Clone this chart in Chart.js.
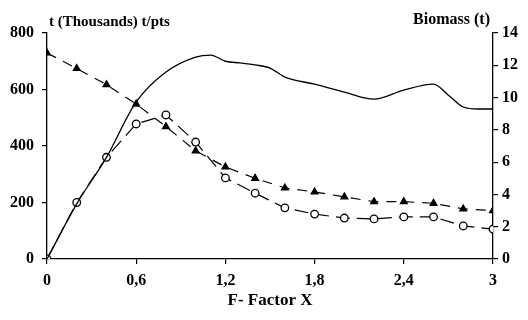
<!DOCTYPE html>
<html>
<head>
<meta charset="utf-8">
<script src="https://cdn.jsdelivr.net/npm/chart.js@4"></script>
<style>
  html, body { margin: 0; padding: 0; background: #fff; }
  #wrap { width: 528px; height: 320px; position: relative; }
</style>
</head>
<body>
<div id="wrap"><canvas id="c"></canvas></div>
<script>
/* F-factor chart: yield curve, yield/recruit points (left axis) and biomass (right axis). */
const fValues = [0, 0.2, 0.4, 0.6, 0.8, 1.0, 1.2, 1.4, 1.6, 1.8, 2.0, 2.2, 2.4, 2.6, 2.8, 3.0];
const biomass = [12.76, 11.8, 10.8, 9.6, 8.2, 6.7, 5.7, 5.0, 4.4, 4.15, 3.85, 3.55, 3.55, 3.45, 3.1, 3.0];
const yieldPts = [0, 200, 360, 478, 510, 414, 287, 233, 181, 159, 145, 142, 149, 149, 117, 106];
const curveF = [0, 0.2, 0.4, 0.6, 0.8, 1.0, 1.1, 1.2, 1.3, 1.4, 1.5, 1.6, 1.8, 2.0, 2.2, 2.4, 2.6, 2.7, 2.8, 2.9, 3.0];
const curveT = [0, 195, 360, 556, 662, 715, 722, 700, 694, 687, 676, 644, 619, 591, 566, 598, 619, 580, 538, 531, 531];
const leftTitle = "t (Thousands) t/pts";
const rightTitle = "Biomass (t)";
const xTitle = "F- Factor X";

const FONT = "'Liberation Serif', 'Times New Roman', serif";
const pts = (xs, ys) => xs.map((x, i) => ({ x: x, y: ys[i] }));

const axisTitles = {
  id: "axisTitles",
  afterDraw(chart) {
    const ctx = chart.ctx, a = chart.chartArea;
    ctx.save();
    ctx.fillStyle = "#000";
    ctx.textBaseline = "middle";
    ctx.font = "bold 15px " + FONT;
    ctx.textAlign = "left";
    ctx.fillText(leftTitle, a.left + 2, 22);
    ctx.font = "bold 16px " + FONT;
    ctx.textAlign = "right";
    ctx.fillText(rightTitle, a.right - 3, 20);
    ctx.font = "bold 17px " + FONT;
    ctx.textAlign = "center";
    ctx.fillText(xTitle, (a.left + a.right) / 2, 301);
    ctx.restore();
  },
};

const tickStyle = { color: "#000", font: { family: FONT, size: 16, weight: "bold" } };
const gridStyle = { display: true, drawOnChartArea: false, drawTicks: true, tickLength: 5, color: "#000", lineWidth: 1.2 };

new Chart(document.getElementById("c"), {
  type: "line",
  data: {
    datasets: [
      {
        label: "Yield",
        data: pts(curveF, curveT),
        yAxisID: "y",
        borderColor: "#000",
        borderWidth: 1.3,
        pointRadius: 0,
        cubicInterpolationMode: "monotone",
      },
      {
        label: "Yield per recruit",
        data: pts(fValues, yieldPts),
        yAxisID: "y",
        borderColor: "#000",
        borderWidth: 1.2,
        borderDash: [14, 7],
        pointStyle: "circle",
        pointRadius: 3.8,
        pointBorderWidth: 1.3,
        pointBackgroundColor: "#fff",
        pointBorderColor: "#000",
        tension: 0,
      },
      {
        label: "Biomass",
        data: pts(fValues, biomass),
        yAxisID: "y2",
        borderColor: "#000",
        borderWidth: 1.2,
        borderDash: [10, 8],
        pointStyle: "triangle",
        pointRadius: 4,
        pointBackgroundColor: "#000",
        pointBorderColor: "#000",
        tension: 0,
      },
    ],
  },
  options: {
    responsive: true,
    maintainAspectRatio: false,
    animation: false,
    layout: { padding: { top: 33, left: 0, right: 0, bottom: 0 } },
    plugins: { legend: { display: false }, tooltip: { enabled: false } },
    scales: {
      x: {
        type: "linear",
        min: 0,
        max: 3,
        grid: gridStyle,
        border: { display: true, color: "#000", width: 1.3 },
        ticks: Object.assign({}, tickStyle, {
          stepSize: 0.6,
          padding: 7,
          callback: (v) => String(Math.round(v * 10) / 10).replace(".", ","),
        }),
        afterFit: (s) => { s.height = 61; },
      },
      y: {
        position: "left",
        min: 0,
        max: 800,
        grid: gridStyle,
        border: { display: true, color: "#000", width: 1.3 },
        ticks: Object.assign({}, tickStyle, { stepSize: 200, padding: 8 }),
        afterFit: (s) => { s.width = 47; },
      },
      y2: {
        position: "right",
        min: 0,
        max: 14,
        grid: gridStyle,
        border: { display: true, color: "#000", width: 1.3 },
        ticks: Object.assign({}, tickStyle, { stepSize: 2, padding: 4 }),
        afterFit: (s) => { s.width = 35; },
      },
    },
  },
  plugins: [axisTitles],
});
</script>
</body>
</html>
